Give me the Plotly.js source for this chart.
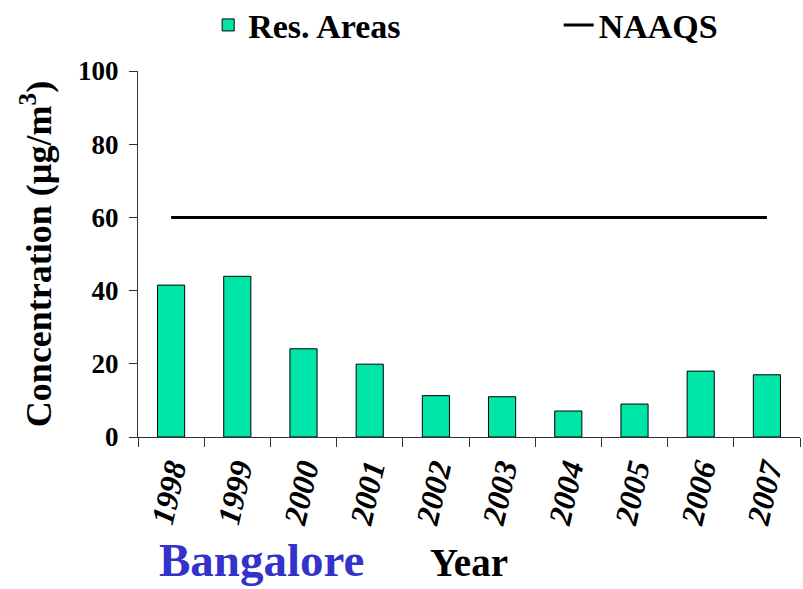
<!DOCTYPE html>
<html>
<head>
<meta charset="utf-8">
<script src="https://cdn.plot.ly/plotly-3.0.1.min.js"></script>
<style>html,body{margin:0;padding:0;background:#fff;}#chart{width:803px;height:589px;}</style>
</head>
<body>
<div id="chart"></div>
<script>
const years = ['1998','1999','2000','2001','2002','2003','2004','2005','2006','2007'];
const resAreas = [41.5, 43.9, 24.1, 19.9, 11.3, 11.0, 7.1, 9.0, 18.0, 17.0];
const naaqs = [60, 60, 60, 60, 60, 60, 60, 60, 60, 60];
const yTicks = [0, 20, 40, 60, 80, 100];

const FONT = 'Liberation Serif, Times New Roman, serif';
const legendFont = {family: FONT, size: 34, weight: 'bold'};

const traces = [
  {
    type: 'bar', name: 'Res. Areas', x: years, y: resAreas,
    marker: {color: '#00E5A8', line: {color: '#000', width: 1}},
    legend: 'legend'
  },
  {
    type: 'scatter', mode: 'lines', name: 'NAAQS', x: years, y: naaqs,
    line: {color: '#000', width: 3},
    legend: 'legend2'
  }
];

const layout = {
  width: 803, height: 589,
  margin: {l: 138, r: 3, t: 71, b: 152},
  paper_bgcolor: '#fff', plot_bgcolor: '#fff',
  font: {family: FONT, color: '#000'},
  bargap: 0.59,
  showlegend: true,
  legend: {
    orientation: 'h', x: 0.106, xanchor: 'left', yref: 'container', y: 0.957, yanchor: 'middle',
    font: legendFont, bgcolor: 'rgba(0,0,0,0)'
  },
  legend2: {
    orientation: 'h', x: 0.6355, xanchor: 'left', yref: 'container', y: 0.957, yanchor: 'middle',
    font: legendFont, bgcolor: 'rgba(0,0,0,0)'
  },
  xaxis: {
    type: 'category',
    tickson: 'boundaries', ticks: 'outside', ticklen: 9, tickcolor: '#333',
    showline: true, linecolor: '#333', linewidth: 1,
    showgrid: false, zeroline: false,
    tickangle: -77,
    tickfont: {family: FONT, size: 32, weight: 'bold', style: 'italic'},
    title: {text: 'Year', font: {family: FONT, size: 39, weight: 'bold'}, standoff: 20}
  },
  yaxis: {
    range: [0, 100], tickvals: yTicks,
    ticks: 'outside', ticklen: 8, tickcolor: '#333',
    showline: true, linecolor: '#333', linewidth: 1,
    showgrid: false, zeroline: false,
    ticklabelstandoff: 5,
    tickfont: {family: FONT, size: 27, weight: 'bold'},
    title: {text: 'Concentration (µg/m<sup>3</sup>)', font: {family: FONT, size: 36, weight: 'bold'}, standoff: 15}
  },
  annotations: [
    {
      xref: 'paper', yref: 'paper', x: 0.029, y: -0.335, xanchor: 'left', yanchor: 'middle',
      text: 'Bangalore', showarrow: false,
      font: {family: FONT, size: 47, weight: 'bold', color: '#3333CC'}
    }
  ]
};

Plotly.newPlot('chart', traces, layout, {displayModeBar: false, staticPlot: true});
</script>
</body>
</html>
